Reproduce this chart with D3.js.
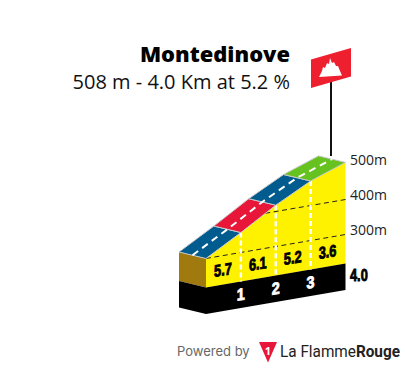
<!DOCTYPE html>
<html>
<head>
<meta charset="utf-8">
<script src="https://cdn.jsdelivr.net/npm/d3@7"></script>
<style>
html, body { margin: 0; padding: 0; background: #fff; }
svg { display: block; }
text { font-family: "Open Sans", sans-serif; }
.num { font-family: "Liberation Sans", sans-serif; font-weight: 700; stroke-width: .8px; }
</style>
</head>
<body>
<svg id="chart" width="405" height="368"></svg>
<script>
// values
const kmMarks = [0, 1, 2, 3, 4];
const elevations = [300, 357, 418, 470, 506];
const grades = [5.7, 6.1, 5.2, 3.6];
const roadColors = ["#005b8e", "#e8173a", "#005b8e", "#66c21e"];
const gridElevations = [300, 400];
const gridStartKm = [0, 1.7];
const elevationTicks = [300, 400, 500];
const kmLabels = [1, 2, 3];

const svg = d3.select("#chart");

const x = d3.scaleLinear().domain([0, 4]).range([206, 345.5]);
const y = d3.scaleLinear().domain([300, 400]).range([258.5, 223.5]);
const skew = 0.172;            // fall of the ground per px, gives the 3d look
const back = [-27, -6.5];      // depth of the road surface
const groundY = 287.5, baseY = 314;

let drop = function (px) { return -skew * (px - x(0)); };
let px = function (km) { return x(km); };
let py = function (km, ele) { return y(ele) + drop(x(km)); };
let pts = function (list) { return list.map(function (p) { return p.join(","); }).join(" "); };

// side of the block
svg.append("polygon")
    .attr("points", pts([[x(0) + back[0], py(0, 300) + back[1]], [x(0), py(0, 300)], [x(0), groundY], [x(0) + back[0], groundY + back[1]]]))
    .attr("fill", "#a07a0e");
svg.append("polygon")
    .attr("points", pts([[x(0) + back[0], groundY + back[1]], [x(0), groundY], [x(0), baseY], [x(0) + back[0], baseY + back[1]]]))
    .attr("fill", "#000");

// yellow face
let face = kmMarks.map(function (k, i) { return [px(k), py(k, elevations[i])]; });
face.push([x(4), groundY + drop(x(4))], [x(0), groundY]);
svg.append("polygon").attr("points", pts(face)).attr("fill", "#fff200");

// black strip
svg.append("polygon")
    .attr("points", pts([[x(0), groundY], [x(4), groundY + drop(x(4))], [x(4), baseY + drop(x(4))], [x(0), baseY]]))
    .attr("fill", "#000");

// elevation dashes
gridElevations.forEach(function (e, i) {
    svg.append("line")
        .attr("x1", x(gridStartKm[i])).attr("y1", py(gridStartKm[i], e))
        .attr("x2", x(4)).attr("y2", py(4, e))
        .attr("stroke", "#222").attr("stroke-width", 1).attr("stroke-dasharray", "5,3.5");
});

// km separators
kmLabels.forEach(function (k) {
    svg.append("line")
        .attr("x1", x(k)).attr("y1", py(k, elevations[k]))
        .attr("x2", x(k)).attr("y2", groundY + drop(x(k)))
        .attr("stroke", "#fff").attr("stroke-width", 2.4).attr("stroke-dasharray", "5,3");
});

// road surface
roadColors.forEach(function (c, i) {
    let a = [x(i), py(i, elevations[i])];
    let b = [x(i + 1), py(i + 1, elevations[i + 1])];
    svg.append("polygon")
        .attr("points", pts([a, b, [b[0] + back[0], b[1] + back[1]], [a[0] + back[0], a[1] + back[1]]]))
        .attr("fill", c).attr("stroke", "#c9c9c9").attr("stroke-width", 1).attr("stroke-linejoin", "round");
});
let center = d3.line()
    .x(function (k) { return x(k) + back[0] / 2; })
    .y(function (k) { return py(k, elevations[k]) + back[1] / 2; });
svg.append("path").attr("d", center(kmMarks))
    .attr("fill", "none").attr("stroke", "#fff").attr("stroke-width", 2).attr("stroke-dasharray", "7,5");

// grade labels
grades.forEach(function (g, i) {
    let mx = (x(i) + x(i + 1)) / 2 - 0.5;
    let my = groundY + drop(mx) - 9;
    svg.append("text").attr("class", "num")
        .attr("transform", "translate(" + mx + "," + my + ") skewY(-9) scale(.8,1.05)")
        .attr("text-anchor", "middle").attr("font-size", 16).attr("fill", "#000").attr("stroke", "#000")
        .text(g.toFixed(1));
});

// km labels
kmLabels.forEach(function (k) {
    svg.append("text").attr("class", "num")
        .attr("transform", "translate(" + x(k) + "," + (groundY + drop(x(k)) + 18.5) + ") skewY(-9) scale(.9,1.05)")
        .attr("text-anchor", "middle").attr("font-size", 16).attr("fill", "#fff").attr("stroke", "#fff")
        .text(k);
});

// elevation axis on the right
let axisGroup = svg.append("g")
    .attr("transform", "translate(346," + (drop(x(4)) - 4) + ")")
    .call(d3.axisRight(y).tickValues(elevationTicks).tickSize(0).tickPadding(4)
        .tickFormat(function (d) { return d + "m"; }));
axisGroup.select(".domain").remove();
axisGroup.selectAll("text").attr("font-size", 14).attr("fill", "#222").style("font-family", "'Open Sans', sans-serif");

svg.append("text").attr("class", "num")
    .attr("transform", "translate(350,280.5) scale(.8,1.05)")
    .attr("font-size", 16).attr("fill", "#000").attr("stroke", "#000")
    .text("4.0");

// title
svg.append("text").attr("x", 290).attr("y", 62).attr("text-anchor", "end")
    .attr("font-size", 21.9).attr("font-weight", 800).attr("fill", "#000").text("Montedinove");
svg.append("text").attr("x", 290).attr("y", 88.5).attr("text-anchor", "end")
    .attr("font-size", 20).attr("fill", "#111").text("508 m - 4.0 Km at 5.2 %");

// flag
svg.append("line").attr("x1", 331).attr("x2", 331).attr("y1", 80).attr("y2", 156)
    .attr("stroke", "#111").attr("stroke-width", 2);
svg.append("polygon").attr("points", "311,59.5 351,48 351,76.5 311,88").attr("fill", "#ee1f2f");
svg.append("polygon")
    .attr("points", "319,77 322,71 323,67 325,68 327,63 329,64 330,58 332,63 334,62 336,66 338,66 340,71 342,75.5")
    .attr("fill", "#fff");

// footer
svg.append("text").attr("x", 177).attr("y", 356).attr("font-size", 13)
    .attr("fill", "#666").style("font-family", "Inter, sans-serif").text("Powered by");
svg.append("polygon").attr("points", "259,342 277,342 268,362.5").attr("fill", "#e8173a");
svg.append("text").attr("x", 268).attr("y", 355).attr("text-anchor", "middle").attr("font-size", 11)
    .attr("font-weight", 700).attr("fill", "#fff").text("1");
let brand = svg.append("text").attr("x", 280).attr("y", 357).attr("font-size", 16)
    .attr("textLength", 120).attr("lengthAdjust", "spacingAndGlyphs")
    .attr("fill", "#222").style("font-family", "Roboto, sans-serif");
brand.append("tspan").text("La Flamme");
brand.append("tspan").attr("font-weight", 700).text("Rouge");
</script>
</body>
</html>
